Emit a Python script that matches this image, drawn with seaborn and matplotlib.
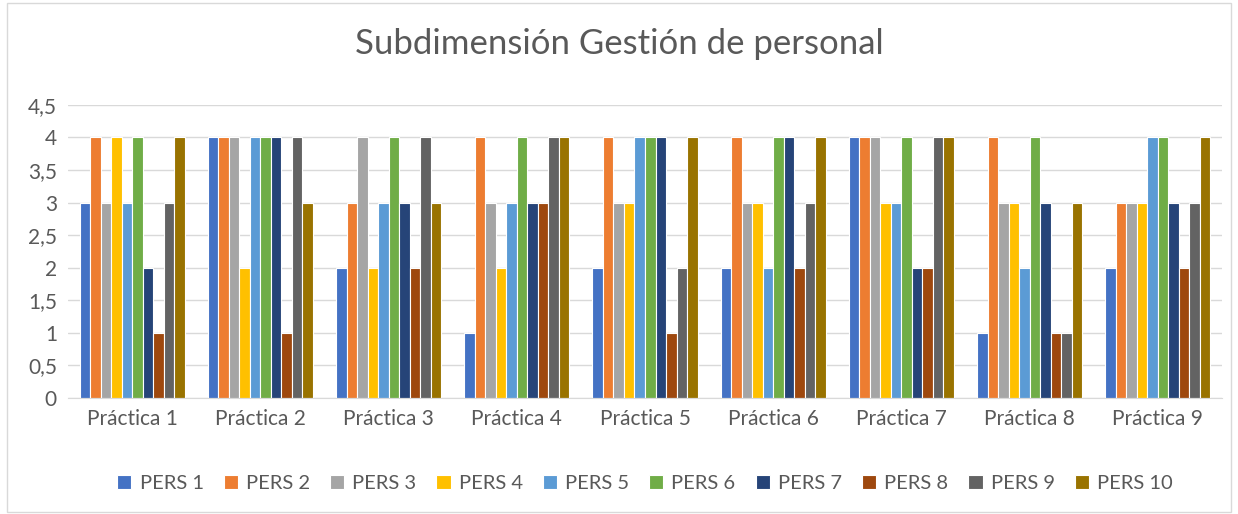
import seaborn as sns
import matplotlib.pyplot as plt
import pandas as pd
from matplotlib.patches import Rectangle

# Data
practicas = ['Práctica 1', 'Práctica 2', 'Práctica 3', 'Práctica 4', 'Práctica 5',
             'Práctica 6', 'Práctica 7', 'Práctica 8', 'Práctica 9']
personas = ['PERS 1', 'PERS 2', 'PERS 3', 'PERS 4', 'PERS 5',
            'PERS 6', 'PERS 7', 'PERS 8', 'PERS 9', 'PERS 10']

p1 = [3, 4, 3, 4, 3, 4, 2, 1, 3, 4]
p2 = [4, 4, 4, 2, 4, 4, 4, 1, 4, 3]
p3 = [2, 3, 4, 2, 3, 4, 3, 2, 4, 3]
p4 = [1, 4, 3, 2, 3, 4, 3, 3, 4, 4]
p5 = [2, 4, 3, 3, 4, 4, 4, 1, 2, 4]
p6 = [2, 4, 3, 3, 2, 4, 4, 2, 3, 4]
p7 = [4, 4, 4, 3, 3, 4, 2, 2, 4, 4]
p8 = [1, 4, 3, 3, 2, 4, 3, 1, 1, 3]
p9 = [2, 3, 3, 3, 4, 4, 3, 2, 3, 4]
valores = [p1, p2, p3, p4, p5, p6, p7, p8, p9]

colores = ['#4472C4', '#ED7D31', '#A5A5A5', '#FFC000', '#5B9BD5',
           '#70AD47', '#264478', '#9E480E', '#636363', '#997300']

# Long format table for seaborn
rows = []
for prac, vals in zip(practicas, valores):
    for pers, v in zip(personas, vals):
        rows.append({'Práctica': prac, 'Persona': pers, 'Valor': v})
df = pd.DataFrame(rows)

sns.set_style('white')
plt.rcParams['font.family'] = ['Lato', 'DejaVu Sans']

fig = plt.figure(figsize=(12.38, 5.14), dpi=100)
ax = fig.add_axes([0.055, 0.226, 0.932, 0.570])

sns.barplot(data=df, x='Práctica', y='Valor', hue='Persona', hue_order=personas,
            palette=colores, width=0.82, edgecolor='white', linewidth=0.8,
            saturation=1, ax=ax)

ax.set_ylim(0, 4.5)
ax.set_xlim(-0.5, len(practicas) - 0.5)
ticks = [i * 0.5 for i in range(10)]
ax.set_yticks(ticks)
ax.set_yticklabels([f'{t:g}'.replace('.', ',') for t in ticks])
ax.yaxis.grid(True, color='#D9D9D9', linewidth=1)
ax.set_axisbelow(True)
for s in ['top', 'right', 'left']:
    ax.spines[s].set_visible(False)
ax.spines['bottom'].set_color('#D9D9D9')
ax.tick_params(axis='both', length=0, labelsize=15, colors='#595959', pad=8)
ax.set_xlabel('')
ax.set_ylabel('')

fig.suptitle('Subdimensión Gestión de personal', y=0.945, fontsize=25, color='#595959')

ax.legend(loc='upper center', bbox_to_anchor=(0.5, -0.2), ncol=10, frameon=False,
          fontsize=14.5, labelcolor='#595959', handlelength=0.7, handleheight=0.7,
          handletextpad=0.4, columnspacing=1.0)

# light chart border like the Excel frame
fig.patches.append(Rectangle((0.006, 0.004), 0.988, 0.99, transform=fig.transFigure,
                             fill=False, edgecolor='#D9D9D9', linewidth=1))

plt.savefig('out.png', dpi=100)
